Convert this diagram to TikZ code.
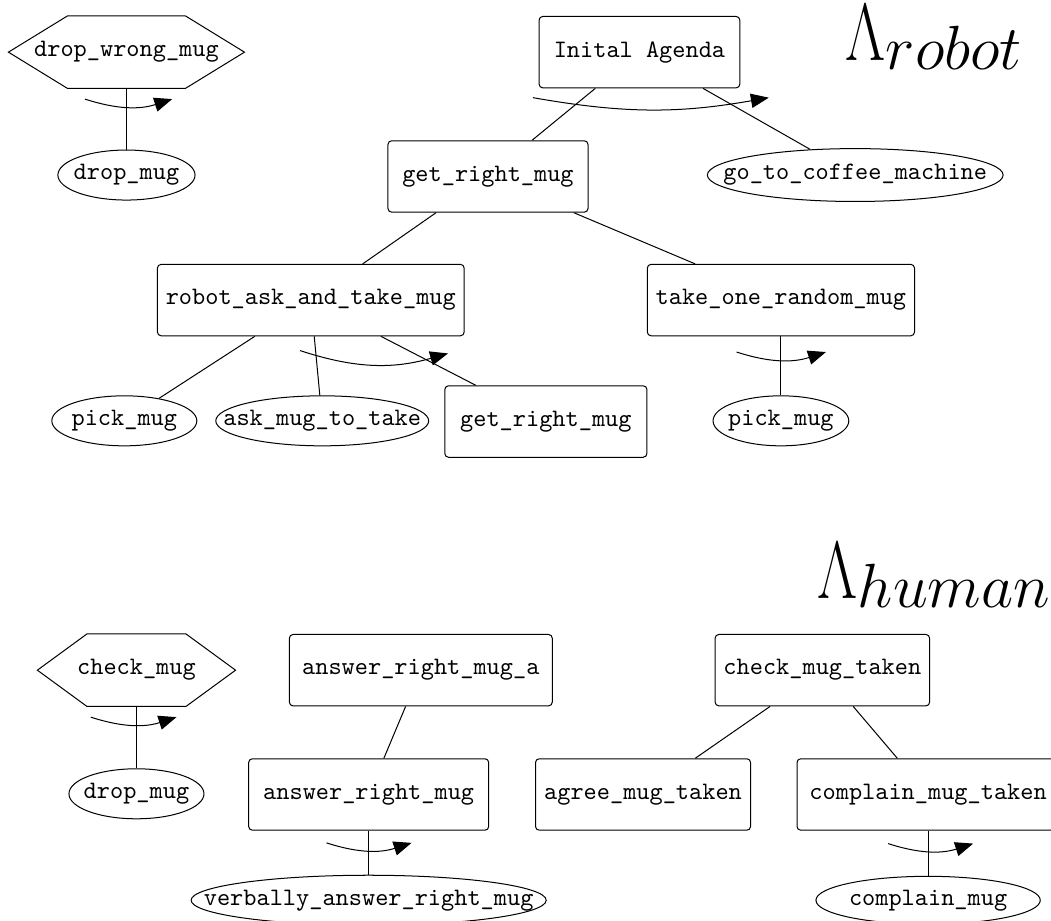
\documentclass[tikz,border=0pt]{standalone}
\usepackage{graphicx}
\usetikzlibrary{shapes.geometric,arrows.meta,calc}

\newcommand{\hexframe}[1]{%
  \draw ($(#1.north west)!0.25!(#1.north east)$) -- ($(#1.north west)!0.75!(#1.north east)$)
    -- (#1.east) -- ($(#1.south west)!0.75!(#1.south east)$)
    -- ($(#1.south west)!0.25!(#1.south east)$) -- (#1.west) -- cycle;}
\newcommand{\agendaname}[1]{\scalebox{1}[1.3]{$\Lambda$}\raisebox{-0.16em}{$#1$}}

\begin{document}
\begin{tikzpicture}[
    task/.style={draw, rounded corners=1.5pt, minimum height=1cm, font=\ttfamily},
    act/.style={draw, ellipse, inner sep=-3cm, font=\ttfamily},
    guard/.style={inner sep=0pt, minimum height=1cm, font=\ttfamily},
    order/.style={-{Triangle[length=2.5mm,width=2mm]}, bend right=18},
    title/.style={anchor=base west, inner sep=0pt, font=\fontsize{23}{28}\selectfont}
  ]
      \useasboundingbox (0, 0) rectangle (14.71, 12.89);

      % robot
      \node[guard, minimum width=3.29cm] (dropwrong) at (1.77, 12.16) {drop\_wrong\_mug};
      \hexframe{dropwrong}
      \node[act, minimum width=1.92cm, minimum height=0.70cm] (dropmug) at (1.77, 10.44) {drop\_mug};
      \draw (dropwrong) -- (dropmug);
      \draw[order] ([shift={(-0.58,-0.15)}]dropwrong.south) to ++(1.22, 0);

      \node[task, minimum width=2.81cm] (agenda) at (8.95, 12.16) {Inital Agenda};
      \node[title] (lrobot) at (11.83, 12.05) {\agendaname{robot}};

      \node[task, minimum width=2.80cm] (getright) at (6.83, 10.42) {get\_right\_mug};
      \node[act, minimum width=4.14cm, minimum height=0.74cm] (coffee) at (11.97, 10.44) {go\_to\_coffee\_machine};
      \draw (agenda) -- (getright);
      \draw (agenda) -- (coffee);
      \draw[order, bend right=10] ([shift={(-1.49,-0.13)}]agenda.south) to ++(3.30, 0);

      \node[task, minimum width=4.23cm] (robotask) at (4.35, 8.69) {robot\_ask\_and\_take\_mug};
      \node[task, minimum width=3.64cm] (takeone) at (10.93, 8.69) {take\_one\_random\_mug};
      \draw (getright) -- (robotask);
      \draw (getright) -- (takeone);

      \node[act, minimum width=2.03cm, minimum height=0.70cm] (pickmug) at (1.74, 7.00) {pick\_mug};
      \node[act, minimum width=2.98cm, minimum height=0.70cm] (askmug) at (4.51, 7.00) {ask\_mug\_to\_take};
      \node[task, minimum width=2.83cm] (getrightb) at (7.64, 6.99) {get\_right\_mug};
      \draw (robotask) -- (pickmug);
      \draw (robotask) -- (askmug);
      \draw (robotask) -- (getrightb);
      \draw[order, bend right=17] ([shift={(-0.15,-0.20)}]robotask.south) to ++(2.07, -0.04);

      \node[act, minimum width=1.90cm, minimum height=0.70cm] (pickmugb) at (10.93, 7.00) {pick\_mug};
      \draw (takeone) -- (pickmugb);
      \draw[order] ([shift={(-0.62,-0.22)}]takeone.south) to ++(1.25, 0);

      % human
      \node[title] (lhuman) at (11.44, 4.51) {\agendaname{human}};

      \node[guard, minimum width=2.76cm] (checkmug) at (1.91, 3.51) {check\_mug};
      \hexframe{checkmug}
      \node[act, minimum width=1.89cm, minimum height=0.70cm] (dropmugb) at (1.91, 1.78) {drop\_mug};
      \draw (checkmug) -- (dropmugb);
      \draw[order] ([shift={(-0.64,-0.15)}]checkmug.south) to ++(1.20, 0);

      \node[task, minimum width=3.68cm] (answera) at (5.89, 3.51) {answer\_right\_mug\_a};
      \node[task, minimum width=3.36cm] (answer) at (5.16, 1.77) {answer\_right\_mug};
      \node[act, minimum width=4.97cm, minimum height=0.70cm] (verbally) at (5.16, 0.29) {verbally\_answer\_right\_mug};
      \draw (answera) -- (answer);
      \draw (answer) -- (verbally);
      \draw[order] ([shift={(-0.59,-0.17)}]answer.south) to ++(1.19, 0);

      \node[task, minimum width=2.97cm] (checktaken) at (11.51, 3.51) {check\_mug\_taken};
      \node[task, minimum width=3.01cm] (agree) at (9.00, 1.77) {agree\_mug\_taken};
      \node[task, minimum width=3.67cm] (complain) at (12.99, 1.77) {complain\_mug\_taken};
      \node[act, minimum width=3.14cm, minimum height=0.67cm] (complainmug) at (12.99, 0.29) {complain\_mug};
      \draw (checktaken) -- (agree);
      \draw (checktaken) -- (complain);
      \draw (complain) -- (complainmug);
      \draw[order] ([shift={(-0.56,-0.18)}]complain.south) to ++(1.19, 0);
\end{tikzpicture}
\end{document}
